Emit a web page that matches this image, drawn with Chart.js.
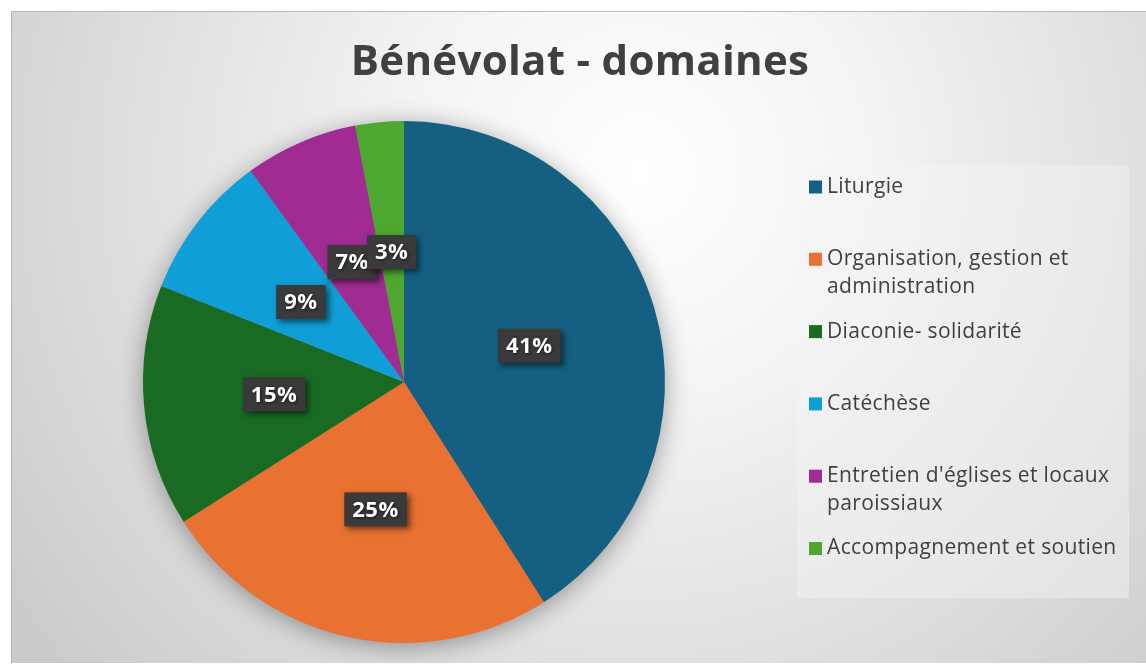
<!DOCTYPE html>
<html>
<head>
<meta charset="utf-8">
<script src="https://cdn.jsdelivr.net/npm/chart.js@4/dist/chart.umd.min.js"></script>
<style>
html,body{margin:0;padding:0;background:#ffffff;}
#wrap{position:relative;width:1146px;height:664px;}
</style>
</head>
<body>
<div id="wrap"><canvas id="c"></canvas></div>
<script>
const chartTitle = 'Bénévolat - domaines';
const categories = ['Liturgie', 'Organisation, gestion et administration', 'Diaconie- solidarité', 'Catéchèse', "Entretien d'églises et locaux paroissiaux", 'Accompagnement et soutien'];
const values = [41, 25, 15, 9, 7, 3];
const colors = ['#156082', '#E97132', '#196B24', '#0F9ED5', '#A02B93', '#4EA72E'];

const FONT = '"Open Sans", "DejaVu Sans", sans-serif';

const bgPlugin = {
  id: 'bg',
  beforeDraw(chart) {
    const ctx = chart.ctx;
    ctx.save();
    const g = ctx.createRadialGradient(640, 170, 0, 640, 170, 760);
    g.addColorStop(0, '#ffffff');
    g.addColorStop(0.3, '#f4f4f4');
    g.addColorStop(0.65, '#e0e0e0');
    g.addColorStop(1, '#cbcbcb');
    ctx.fillStyle = g;
    ctx.fillRect(11, 11, 1135, 652);
    ctx.strokeStyle = 'rgba(170,170,170,0.7)';
    ctx.lineWidth = 1;
    ctx.beginPath();
    ctx.moveTo(11.5, 663); ctx.lineTo(11.5, 11.5); ctx.lineTo(1146, 11.5);
    ctx.stroke();
    ctx.fillStyle = '#404040';
    ctx.font = 'bold 42px ' + FONT;
    ctx.textAlign = 'center';
    ctx.textBaseline = 'alphabetic';
    ctx.letterSpacing = '0.3px';
    ctx.fillText(chartTitle, 580, 75);
    ctx.restore();
  },
  beforeDatasetsDraw(chart) {
    const arc = chart.getDatasetMeta(0).data[0];
    if (!arc) return;
    const ctx = chart.ctx;
    ctx.save();
    ctx.shadowColor = 'rgba(0,0,0,0.38)';
    ctx.shadowBlur = 26;
    ctx.shadowOffsetX = 0;
    ctx.shadowOffsetY = 4;
    ctx.fillStyle = '#888';
    ctx.beginPath();
    ctx.arc(arc.x, arc.y, arc.outerRadius - 1, 0, Math.PI * 2);
    ctx.fill();
    ctx.restore();
  },
  afterDatasetsDraw(chart) {
    const ctx = chart.ctx;
    const meta = chart.getDatasetMeta(0);
    const total = values.reduce((a, b) => a + b, 0);
    ctx.save();
    ctx.font = 'bold 22px ' + FONT;
    ctx.letterSpacing = '0.5px';
    ctx.textAlign = 'center';
    ctx.textBaseline = 'middle';
    meta.data.forEach((arc, i) => {
      const p = arc.tooltipPosition();
      const txt = Math.round(values[i] / total * 100) + '%';
      const w = ctx.measureText(txt).width + 16;
      const h = 34;
      ctx.save();
      ctx.shadowColor = 'rgba(0,0,0,0.55)';
      ctx.shadowBlur = 6;
      ctx.shadowOffsetX = 3;
      ctx.shadowOffsetY = 3;
      ctx.fillStyle = '#3a3a3a';
      ctx.fillRect(p.x - w / 2, p.y - h / 2, w, h);
      ctx.restore();
      ctx.save();
      ctx.shadowColor = 'rgba(0,0,0,0.6)';
      ctx.shadowBlur = 3;
      ctx.shadowOffsetX = 1;
      ctx.shadowOffsetY = 1;
      ctx.fillStyle = '#ffffff';
      ctx.fillText(txt, p.x, p.y + 1);
      ctx.restore();
    });
    ctx.restore();
  },
  afterDraw(chart) {
    const ctx = chart.ctx;
    ctx.save();
    ctx.fillStyle = 'rgba(245,245,245,0.45)';
    ctx.fillRect(797, 165, 332, 433);
    ctx.font = '21px ' + FONT;
    ctx.letterSpacing = '0.35px';
    ctx.textBaseline = 'middle';
    ctx.textAlign = 'left';
    const maxW = 298;
    const slot = 72.3;
    const lh = 28;
    categories.forEach((label, i) => {
      const y0 = 187 + i * slot;
      ctx.fillStyle = colors[i];
      ctx.fillRect(809, y0 - 6.5, 13, 13);
      const words = label.split(' ');
      const lines = [];
      let cur = '';
      words.forEach(wd => {
        const t = cur ? cur + ' ' + wd : wd;
        if (ctx.measureText(t).width > maxW && cur) { lines.push(cur); cur = wd; } else cur = t;
      });
      if (cur) lines.push(cur);
      ctx.fillStyle = '#404040';
      lines.forEach((ln, k) => ctx.fillText(ln, 827, y0 + k * lh));
    });
    ctx.restore();
  }
};

new Chart(document.getElementById('c'), {
  type: 'pie',
  data: {
    labels: categories,
    datasets: [{
      data: values,
      backgroundColor: colors,
      borderWidth: 0
    }]
  },
  options: {
    responsive: true,
    maintainAspectRatio: false,
    animation: false,
    layout: { padding: { left: 143, right: 481, top: 121, bottom: 21 } },
    plugins: {
      legend: { display: false },
      title: { display: false },
      tooltip: { enabled: false }
    }
  },
  plugins: [bgPlugin]
});
</script>
</body>
</html>
